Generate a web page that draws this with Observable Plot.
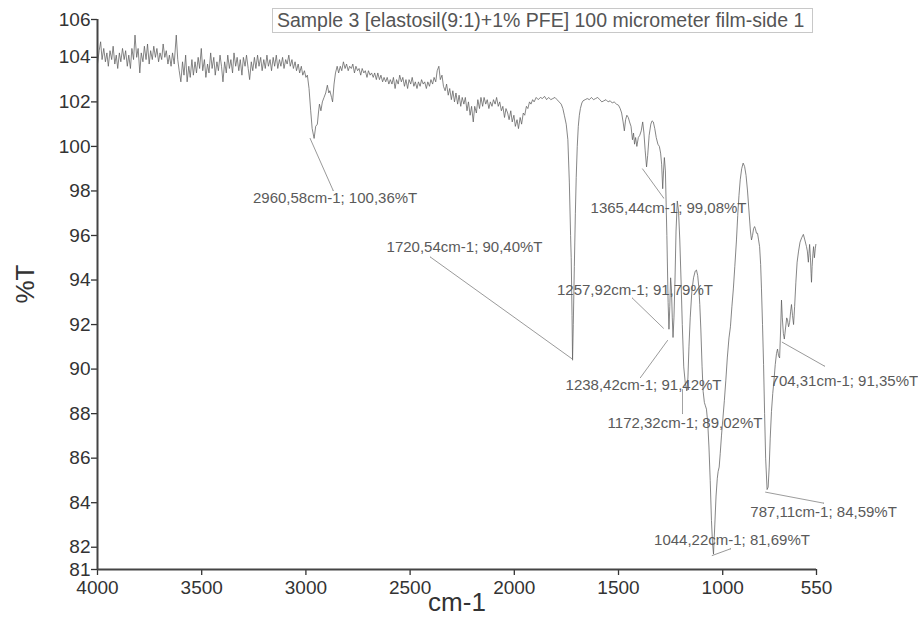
<!DOCTYPE html>
<html>
<head>
<meta charset="utf-8">
<script src="https://cdn.jsdelivr.net/npm/d3@7"></script>
<script src="https://cdn.jsdelivr.net/npm/@observablehq/plot@0.6"></script>
<style>
  html, body { margin: 0; padding: 0; background: #fff; }
  #chart { position: relative; width: 918px; height: 624px; font-family: "Liberation Sans", Arial, sans-serif; }
  #chart svg { position: absolute; left: 0; top: 0; }
  #title {
    position: absolute; left: 272px; top: 8px; box-sizing: border-box;
    width: 541px; height: 25px; padding-left: 4px;
    border: 1px solid #c8c8c8; background: #fff; color: #555;
    font-size: 19.5px; line-height: 23px; white-space: nowrap;
  }
</style>
</head>
<body>
<div id="chart"><div id="title">Sample 3 [elastosil(9:1)+1% PFE] 100 micrometer film-side 1</div></div>
<script>
// Axis settings
const xDomain = [4000, 550];
const yDomain = [81, 105.7];
const xTicks = [4000, 3500, 3000, 2500, 2000, 1500, 1000, 550];
const yTicks = [81, 82, 84, 86, 88, 90, 92, 94, 96, 98, 100, 102, 104, 105.7];

// Spectrum, [wavenumber cm-1, %T], O-H / C-H stretch region
const stretchRegion = [
  [4000,103.7],[3992,104.3],[3985,104.7],[3978,103.9],[3970,104.4],[3962,103.8],[3955,104.2],[3948,103.6],
  [3940,104.3],[3932,103.9],[3925,104.5],[3917,103.7],[3910,104.1],[3903,103.5],[3895,104.2],[3888,103.8],
  [3880,104.4],[3872,103.9],[3865,104.3],[3857,103.6],[3850,104.1],[3842,103.5],[3835,104.4],[3827,103.9],
  [3820,105.0],[3812,104.0],[3805,104.4],[3797,103.3],[3790,104.2],[3782,103.8],[3775,104.5],[3767,103.9],
  [3760,104.6],[3752,103.7],[3745,104.3],[3737,103.9],[3730,104.5],[3722,104.0],[3715,104.4],[3707,103.8],
  [3700,104.2],[3692,103.9],[3685,104.6],[3677,104.0],[3670,104.3],[3662,103.7],[3655,104.1],[3647,103.6],
  [3640,104.2],[3632,103.7],[3622,105.0],[3615,103.9],[3608,103.4],[3600,102.9],[3592,103.8],[3585,103.2],
  [3577,104.1],[3570,102.9],[3562,103.6],[3555,103.1],[3547,103.9],[3540,103.2],[3532,103.8],[3525,103.3],
  [3517,104.0],[3510,103.5],[3502,104.4],[3495,103.4],[3487,103.9],[3480,103.1],[3472,103.7],[3465,103.3],
  [3457,104.2],[3450,103.5],[3442,104.0],[3435,103.2],[3427,103.8],[3420,103.4],[3412,104.1],[3405,103.6],
  [3398,102.9],[3390,103.8],[3382,103.3],[3375,104.1],[3367,103.5],[3360,103.9],[3352,103.3],[3345,104.2],
  [3337,103.6],[3330,104.0],[3322,103.4],[3315,103.9],[3307,103.2],[3300,104.0],[3292,103.6],[3285,104.1],
  [3277,103.5],[3270,103.0],[3262,103.8],[3255,103.4],[3247,104.0],[3240,103.5],[3232,104.1],[3225,103.6],
  [3217,104.0],[3210,103.4],[3202,103.9],[3195,103.5],[3187,104.1],[3180,103.6],[3172,103.9],[3165,103.4],
  [3157,104.0],[3150,103.6],[3142,104.1],[3135,103.5],[3127,103.9],[3120,103.6],[3112,104.0],[3105,103.5],
  [3097,103.9],[3090,103.7],[3082,104.1],[3075,103.6],[3067,103.9],[3060,103.5],[3052,103.8],[3045,103.4],
  [3037,103.7],[3030,103.3],[3022,103.6],[3015,103.2],[3007,103.4],[3000,103.1],[2993,103.2],[2985,102.6],
  [2977,101.6],[2970,100.8],[2953,100.9],[2945,101.0],[2940,101.5],[2935,101.9],[2928,101.6],[2921,102.0],
  [2913,102.2],[2905,102.4],[2897,102.75],[2890,102.4],[2885,102.5],[2877,102.2],[2872,102.0],[2865,102.8],
  [2858,103.3],[2850,103.6],[2843,103.3],[2835,103.6],[2828,103.4],[2820,103.8],[2812,103.5]
];

// 2800–1800 cm-1 baseline
const baselineRegion = [
  [2805,103.7],[2797,103.4],[2790,103.6],[2782,103.5],[2775,103.7],[2767,103.3],[2760,103.6],[2752,103.4],
  [2745,103.5],[2737,103.2],[2730,103.5],[2722,103.3],[2715,103.4],[2707,103.1],[2700,103.4],[2692,103.2],
  [2685,103.3],[2677,103.1],[2670,103.3],[2662,103.0],[2655,103.3],[2647,103.0],[2640,103.2],[2632,102.9],
  [2625,103.1],[2617,102.9],[2610,103.1],[2602,102.8],[2595,103.0],[2587,102.8],[2580,103.1],[2572,102.6],
  [2565,103.0],[2557,102.8],[2550,103.2],[2542,102.9],[2535,103.1],[2527,102.7],[2520,103.0],[2512,102.6],
  [2505,103.0],[2497,102.8],[2490,103.1],[2482,102.7],[2475,102.9],[2467,102.6],[2460,102.9],[2452,102.7],
  [2445,103.0],[2437,102.8],[2430,102.9],[2422,102.6],[2415,102.9],[2407,102.7],[2400,103.0],[2392,102.8],
  [2385,103.1],[2377,102.9],[2370,103.4],[2362,103.6],[2355,103.0],[2347,103.2],[2340,102.7],[2332,102.5],
  [2325,102.8],[2317,102.3],[2310,102.6],[2302,102.1],[2295,102.5],[2287,102.0],[2280,102.4],[2272,101.9],
  [2265,102.3],[2257,101.8],[2250,102.2],[2242,101.9],[2235,102.2],[2227,101.6],[2220,102.0],[2212,101.4],
  [2205,101.8],[2197,101.1],[2190,101.8],[2182,101.5],[2175,102.1],[2167,101.7],[2160,102.2],[2152,101.8],
  [2145,102.2],[2137,101.9],[2130,102.1],[2122,101.7],[2115,102.0],[2107,101.8],[2100,102.1],[2092,101.9],
  [2085,102.2],[2077,101.8],[2070,102.0],[2062,101.6],[2055,101.8],[2047,101.3],[2040,101.7],[2032,101.5],
  [2025,101.2],[2017,101.6],[2010,101.1],[2002,101.4],[1995,100.9],[1987,101.2],[1980,100.8],[1972,101.3],
  [1965,101.0],[1957,101.5],[1950,101.4],[1942,101.8],[1935,101.7],[1927,102.0],[1920,101.9],[1912,102.1],
  [1905,102.0],[1895,102.2],[1885,102.1],[1875,102.2],[1865,102.15],[1855,102.25],[1845,102.1],[1835,102.2],
  [1825,102.1],[1815,102.15],[1805,102.2]
];

// carbonyl band and the 1700–1300 cm-1 stretch
const carbonylRegion = [
  [1795,102.1],[1785,102.0],[1775,101.9],[1767,101.7],[1760,101.4],[1751,101.0],[1743,100.3],[1736,98.4],
  [1730,96.0],[1727,95.0],[1723,92.4],[1717,92.0],[1712,94.6],[1707,97.0],[1703,98.6],[1698,100.0],
  [1693,100.9],[1688,101.4],[1683,101.7],[1676,101.95],[1670,102.05],[1660,102.1],[1650,102.15],[1640,102.1],
  [1630,102.2],[1620,102.1],[1610,102.15],[1600,102.2],[1590,102.1],[1580,102.0],[1570,102.05],[1560,102.1],
  [1550,102.0],[1540,102.05],[1530,101.95],[1521,102.0],[1510,101.9],[1500,101.85],[1492,101.7],[1485,101.5],
  [1478,101.1],[1472,100.7],[1466,101.2],[1460,101.4],[1453,101.3],[1447,101.1],[1440,100.9],[1433,100.3],
  [1428,100.6],[1423,100.1],[1418,100.4],[1412,100.0],[1405,100.4],[1398,100.5],[1391,100.7],[1384,101.1],
  [1378,100.6],[1372,99.8],[1360,99.6],[1353,100.5],[1345,101.0],[1339,101.15],[1333,101.1],[1326,100.8],
  [1319,100.4],[1311,100.1],[1304,100.0],[1298,99.7],[1293,99.2],[1288,98.1],[1284,98.9],[1280,99.5],
  [1275,98.9],[1268,96.0],[1262,93.0]
];

// fingerprint region 1260–550 cm-1
const fingerprintRegion = [
  [1254,92.8],[1250,94.1],[1246,93.6],[1242,92.3],[1234,92.3],[1229,94.0],[1224,96.2],[1218,97.55],
  [1212,97.1],[1206,95.8],[1200,94.0],[1194,92.0],[1187,90.1],[1180,89.4],[1167,89.6],[1162,91.0],
  [1156,92.3],[1148,93.5],[1140,94.1],[1132,94.4],[1126,94.45],[1120,94.2],[1115,93.7],[1110,92.9],
  [1105,91.8],[1099,90.1],[1094,89.0],[1088,88.5],[1083,88.35],[1078,88.2],[1072,87.6],[1066,86.5],
  [1060,85.0],[1054,83.2],[1049,82.2],[1038,83.0],[1032,84.3],[1026,85.1],[1022,85.4],[1017,85.6],
  [1012,86.2],[1006,87.0],[999,87.8],[992,88.6],[985,89.5],[978,90.5],[970,91.4],[963,91.9],
  [956,92.8],[949,93.6],[942,94.6],[934,95.8],[928,96.9],[922,97.8],[916,98.5],[909,99.0],
  [902,99.25],[895,99.1],[888,98.7],[881,98.0],[874,97.1],[867,96.2],[862,95.8],[857,96.0],
  [852,96.3],[847,96.4],[843,96.3],[838,96.1],[833,96.1],[828,95.8],[823,95.5],[818,94.7],
  [814,93.6],[809,92.0],[804,90.2],[799,88.0],[794,86.0],[782,84.7],[777,85.6],[772,86.9],
  [766,88.1],[760,88.9],[754,89.5],[748,90.2],[742,90.7],[737,90.9],[732,90.6],[727,90.5],
  [722,91.8],[718,93.1],[714,92.3],[709,91.6],[699,91.8],[693,92.3],[689,92.2],[684,91.9],
  [679,92.1],[674,92.6],[670,92.9],[665,92.4],[660,92.0],[655,92.8],[649,93.9],[643,94.8],
  [636,95.3],[629,95.7],[621,95.9],[613,96.05],[606,95.8],[598,95.5],[594,95.3],[589,94.8],
  [586,95.2],[583,95.6],[579,95.0],[576,94.3],[574,93.9],[571,94.6],[567,95.2],[564,95.5],
  [560,95.0],[556,95.4],[553,95.6]
];

// Labelled band minima
const peakWavenumbers = [2960.58, 1720.54, 1365.44, 1257.92, 1238.42, 1172.32, 1044.22, 787.11, 704.31];
const peakTransmittance = [100.36, 90.40, 99.08, 91.79, 91.42, 89.02, 81.69, 84.59, 91.35];

// Callout placement in pixels relative to each minimum: leader start, leader end, label centre
const callouts = [
  {from: [-4, 0],     to: [19, 52],      label: [21, 60]},
  {from: [0, -1],     to: [-142, -103],  label: [-108, -113]},
  {from: [-4, 2],     to: [17, 31],      label: [22, 41]},
  {from: [-5.5, -1],  to: [-36.5, -31],  label: [-34, -39]},
  {from: [-5.5, 3],   to: [-32.5, 40],   label: [-29.5, 48]},
  {from: [-4.3, -1.4], to: [-4.3, 22.6], label: [-1.8, 32.6]},
  {from: [-1.3, 1.4], to: [17, -5.3],    label: [18.5, -13.6]},
  {from: [-1.5, 2.6], to: [56.5, 13.6],  label: [56.5, 22.6]},
  {from: [-2.1, 3.2], to: [40, 27],      label: [60, 42.5]}
];

const peaks = peakWavenumbers.map((wn, i) => ({wn, t: peakTransmittance[i]}));
const spectrum = [...stretchRegion, ...baselineRegion, ...carbonylRegion, ...fingerprintRegion]
  .map(([wn, t]) => ({wn, t}))
  .concat(peaks)
  .sort((a, b) => b.wn - a.wn);

const comma = v => v.toFixed(2).replace(".", ",");
const peakLabel = d => `${comma(d.wn)}cm-1; ${comma(d.t)}%T`;

const calloutMarks = peaks.flatMap((p, i) => {
  const c = callouts[i];
  const ddx = c.to[0] - c.from[0], ddy = c.to[1] - c.from[1];
  return [
    Plot.vector([p], {
      x: "wn", y: "t", anchor: "start", r: 0,
      length: Math.hypot(ddx, ddy),
      rotate: Math.atan2(ddx, -ddy) * 180 / Math.PI,
      dx: c.from[0], dy: c.from[1],
      stroke: "#8c8c8c", strokeWidth: 0.8
    }),
    Plot.text([p], {
      x: "wn", y: "t", text: peakLabel,
      dx: c.label[0], dy: c.label[1],
      fontSize: 15, fill: "#5a5a5a"
    })
  ];
});

const chart = Plot.plot({
  width: 918,
  height: 624,
  marginLeft: 97,
  marginRight: 102,
  marginTop: 19,
  marginBottom: 55,
  style: {fontFamily: "'Liberation Sans', Arial, sans-serif", background: "transparent", overflow: "visible"},
  x: {domain: xDomain},
  y: {domain: yDomain},
  marks: [
    Plot.axisX({ticks: xTicks, tickFormat: d => String(d), tickSize: 6, tickPadding: 5, fontSize: 19, color: "#333", strokeWidth: 1.3, label: null}),
    Plot.axisY({ticks: yTicks, tickFormat: d => d.toFixed(0), tickSize: 6, tickPadding: 1, fontSize: 19, color: "#333", strokeWidth: 1.3, label: null}),
    Plot.line(spectrum, {x: "wn", y: "t", stroke: "#5e5e5e", strokeWidth: 0.75}),
    ...calloutMarks,
    Plot.ruleX([xDomain[0]], {stroke: "#444", strokeWidth: 2}),
    Plot.ruleY([yDomain[0]], {stroke: "#444", strokeWidth: 2}),
    Plot.text(["%T"], {text: d => d, frameAnchor: "left", rotate: -90, dx: -72, dy: 9, fontSize: 26, fill: "#333"}),
    Plot.text(["cm-1"], {text: d => d, frameAnchor: "bottom", dy: 41, fontSize: 26, fill: "#333"})
  ]
});

const host = document.getElementById("chart");
host.insertBefore(chart, host.firstChild);
</script>
</body>
</html>
